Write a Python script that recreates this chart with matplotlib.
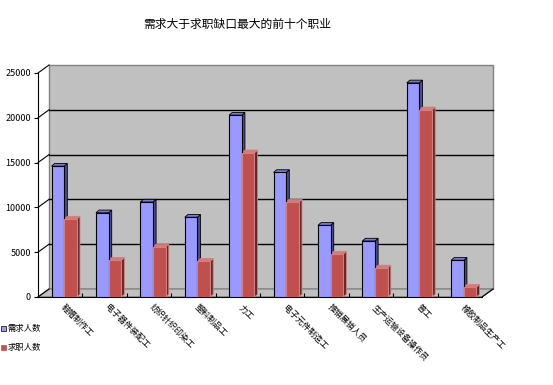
import matplotlib.pyplot as plt
from matplotlib.patches import Polygon, Rectangle
import numpy as np

plt.rcParams['font.family'] = ['Noto Sans CJK SC', 'DejaVu Sans']

# data
jobs = ['鞋帽制作工', '电子器件装配工', '纺织针织印染工', '塑料制品工', '力工',
        '电子元件制造工', '推销展销人员', '生产运输设备操作员', '普工', '橡胶制品生产工']
demand = [14600, 9400, 10600, 8900, 20300, 13900, 8000, 6250, 23900, 4100]
seekers = [8700, 4100, 5600, 4000, 16100, 10600, 4800, 3250, 20900, 1100]
series_names = ['需求人数', '求职人数']

blue = ['#9999ff', '#4d4d8f', '#7a7ad6']   # front, side, top
red = ['#c0504d', '#632523', '#d47a78']

fig = plt.figure(figsize=(5.53, 3.85), dpi=100)
ax = fig.add_axes([38/553, 88/385, 444/553, 224/385])
ax.set_xlim(-0.5, 9.5)
ax.set_ylim(0, 25000)

# depth offsets (data units)
wdx, wdy = 0.25, 900      # back wall
bdx, bdy = 0.07, 300      # bar depth

# back wall, floor, left wall
ax.add_patch(Polygon([(-0.5 + wdx, wdy), (9.5 + wdx, wdy), (9.5 + wdx, 25000 + wdy),
                      (-0.5 + wdx, 25000 + wdy)], closed=True, fc='#c0c0c0',
                     ec='#808080', lw=1, clip_on=False, zorder=0))
ax.add_patch(Polygon([(-0.5, 0), (9.5, 0), (9.5 + wdx, wdy), (-0.5 + wdx, wdy)],
                     closed=True, fc='#c0c0c0', ec='#808080', lw=1, clip_on=False, zorder=0))
for v in [5000, 10000, 15000, 20000]:
    ax.plot([-0.5 + wdx, 9.5 + wdx], [v + wdy, v + wdy], color='black', lw=1,
            clip_on=False, zorder=1)
for v in [0, 5000, 10000, 15000, 20000, 25000]:
    ax.plot([-0.5, -0.5 + wdx], [v, v + wdy], color='black', lw=0.8,
            clip_on=False, zorder=1)
ax.plot([9.5, 9.5 + wdx], [0, wdy], color='black', lw=0.8, clip_on=False, zorder=1)

w = 0.285
shift = 0.09
x = np.arange(len(jobs))
for vals, cols, off in [(demand, blue, -w), (seekers, red, 0)]:
    lefts = x + shift + off
    ec = 'black' if cols is blue else '#d08080'
    ax.bar(lefts, vals, width=w, align='edge', color=cols[0], edgecolor=ec,
           lw=0.8, zorder=3)
    for l, v in zip(lefts, vals):
        ax.add_patch(Polygon([(l + w, 0), (l + w + bdx, bdy), (l + w + bdx, v + bdy), (l + w, v)],
                             closed=True, fc=cols[1], ec=ec, lw=0.6, zorder=2))
        ax.add_patch(Polygon([(l, v), (l + bdx, v + bdy), (l + w + bdx, v + bdy), (l + w, v)],
                             closed=True, fc=cols[2], ec=ec, lw=0.6, zorder=2))

ax.set_facecolor('none')
for s in ['top', 'right']:
    ax.spines[s].set_visible(False)
ax.set_yticks([0, 5000, 10000, 15000, 20000, 25000])
ax.tick_params(axis='y', direction='out', length=3, labelsize=6.5, pad=2)
ax.set_xticks(np.arange(0.5, 9.5, 1))
ax.set_xticklabels([])
ax.tick_params(axis='x', direction='in', length=3)

for i, name in enumerate(jobs):
    ax.text(i + 0.05, -1000, name, rotation=-45, rotation_mode='anchor',
            ha='left', va='center', fontsize=6, transform=ax.transData)

fig.text(237/553, 1 - 24/385, '需求大于求职缺口最大的前十个职业', ha='center',
         va='center', fontsize=8.5)

for j, (name, c) in enumerate(zip(series_names, [blue, red])):
    yy = 1 - (328 + j * 19) / 385
    fig.add_artist(Rectangle((1/553, yy - 2.5/385), 5/553, 5/385, transform=fig.transFigure,
                             fc=c[0], ec='black' if j == 0 else c[0], lw=0.5))
    fig.text(8/553, yy, name, ha='left', va='center', fontsize=6)

fig.savefig('out.png', dpi=100)
